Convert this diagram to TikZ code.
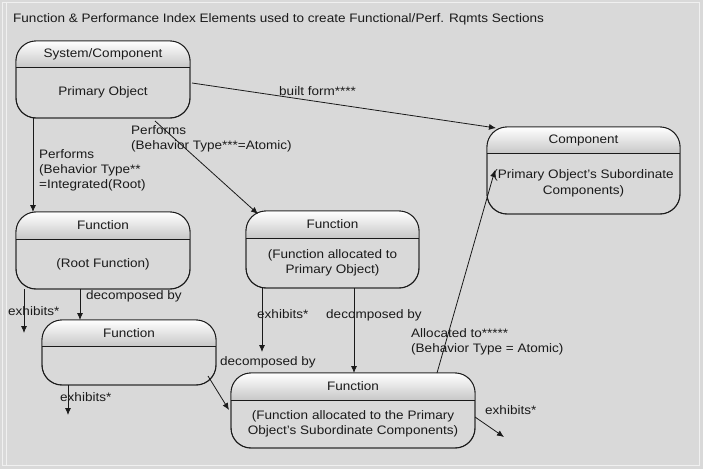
\documentclass[tikz,border=0pt]{standalone}
\usepackage{fontspec}
\setmainfont{Liberation Sans}[FakeStretch=1.1]
\usetikzlibrary{arrows.meta,calc}
\definecolor{bg}{HTML}{D9D9D9}
\definecolor{hdr}{HTML}{C8C8C8}
\definecolor{ink}{HTML}{1A1A1A}
\tikzset{
  umlbox/.style={draw=ink, line width=0.9pt, rounded corners=20pt, fill=bg, inner sep=0pt},
  hdrline/.style={draw=ink, line width=0.9pt},
  txt/.style={font=\fontsize{12.3}{15.5}\selectfont, text=ink, inner sep=0pt, align=center},
  lbl/.style={font=\fontsize{12.3}{15}\selectfont, text=ink, inner sep=0pt, align=left, anchor=north west},
  conn/.style={draw=ink, line width=0.8pt, -{Latex[length=7pt,width=6pt]}},
}
\newcommand{\umlnode}[8]{%
  % #1 name, #2 x1, #3 y1, #4 x2, #5 y2, #6 header y
  \begin{scope}
    \node[umlbox, minimum width={#4-#2}, minimum height={#5-#3}] (#1) at ({(#2+#4)/2},{(#3+#5)/2}) {};
    \clip[rounded corners=20pt] (#2,#3) rectangle (#4,#5);
    \shade[top color=white, bottom color=hdr] (#2,#3) rectangle (#4,#6);
  \end{scope}
  \draw[umlbox, fill=none] (#2,#3) rectangle (#4,#5);
  \draw[hdrline] (#2,#6) -- (#4,#6);
  \node[txt] (#1-t) at ({(#2+#4)/2},{(#3+#6)/2}) {#7};
  \node[txt] (#1-b) at ({(#2+#4)/2},{(#6+#5)/2}) {#8};
}
\begin{document}
\begin{tikzpicture}[x=1pt,y=-1pt]
\fill[bg] (0,0) rectangle (703,469);
\useasboundingbox (0,0) rectangle (703,469);
\draw[white!60!bg, line width=0.8pt] (2,2) rectangle (699,465);
\draw[white!60!bg, line width=0.6pt] (6,2) -- (6,465);

\node[txt, anchor=west] (title) at (13,19) {Function \& Performance Index Elements used to create Functional/Perf. Rqmts Sections};

\umlnode{sys}{16}{41}{190}{118}{67}{System/Component}{Primary Object}
\umlnode{comp}{487}{127}{680}{214}{153}{Component}{(Primary Object's Subordinate\\Components)}
\umlnode{froot}{16}{212}{190}{289}{239}{Function}{(Root Function)}
\umlnode{fmid}{246}{211}{419}{288}{238}{Function}{(Function allocated to\\Primary Object)}
\umlnode{fleft}{42}{320}{216}{385}{346}{Function}{}
\umlnode{fbot}{231}{373}{475}{448}{400}{Function}{(Function allocated to the Primary\\Object's Subordinate Components)}

% free ends
\coordinate (e1) at (24,333);
\coordinate (e2) at (262,352);
\coordinate (e3) at (68,415);
\coordinate (e4) at (504,437);

% connectors
\draw[conn] (33,118) -- (33,212);
\node[lbl] (l1) at (39,149) {Performs\\(Behavior Type**\\=Integrated(Root)};

\draw[conn] (155,121) -- (258,214);
\node[lbl] (l2) at (131,125) {Performs\\(Behavior Type***=Atomic)};

\draw[conn] (192,83) -- (496,128);
\node[lbl] (l3) at (279,86) {built form****};

\draw[conn] (24,289) -- (e1);
\node[lbl] (l4) at (8,306) {exhibits*};

\draw[conn] (80,289) -- (80,320);
\node[lbl] (l5) at (86,290) {decomposed by};

\draw[conn] (262,288) -- (e2);
\node[lbl] (l6) at (257,309) {exhibits*};

\draw[conn] (354,288) -- (354,373);
\node[lbl] (l7) at (326,309) {decomposed by};

\draw[conn] (68,385) -- (e3);
\node[lbl] (l8) at (60,392) {exhibits*};

\draw[conn] (208,376) -- (229,410);
\node[lbl] (l9) at (220,356) {decomposed by};

\draw[conn] (437,373) -- (495,170);
\node[lbl] (l10) at (411,328) {Allocated to*****\\(Behavior Type = Atomic)};

\draw[conn] (475,417) -- (e4);
\node[lbl] (l11) at (485,405) {exhibits*};
\end{tikzpicture}
\end{document}
